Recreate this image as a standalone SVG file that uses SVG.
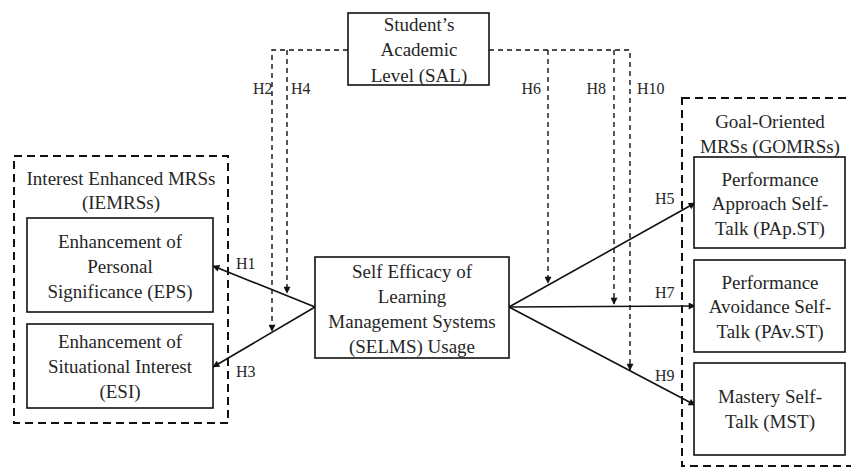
<svg xmlns="http://www.w3.org/2000/svg" width="851" height="469" viewBox="0 0 851 469">
<style>
text{font-family:"Liberation Serif","Times New Roman",serif;fill:#262626;}
.t{font-size:19px;text-anchor:middle;}
.h{font-size:16px;}
.box{fill:#fff;stroke:#111;stroke-width:1.6;}
.grp{fill:none;stroke:#111;stroke-width:2;stroke-dasharray:8 5;}
.sol{fill:none;stroke:#111;stroke-width:1.6;marker-end:url(#ah);}
.dash{fill:none;stroke:#111;stroke-width:1.4;stroke-dasharray:5 4;}
.darr{marker-end:url(#ah);}
</style>
<defs>
<marker id="ah" viewBox="0 0 10 10" refX="9" refY="5" markerWidth="8" markerHeight="7" markerUnits="userSpaceOnUse" orient="auto">
<path d="M0,0 L10,5 L0,10 z" fill="#111"/>
</marker>
</defs>
<rect width="851" height="469" fill="#fff"/>
<g id="group-iemrs">
<rect class="grp" x="14" y="156" width="214" height="267"/>
<text class="t" x="121" y="185">Interest Enhanced MRSs</text>
<text class="t" x="121" y="209">(IEMRSs)</text>
</g>
<g id="group-gomrs">
<rect class="grp" x="682" y="98" width="240" height="368"/>
<text class="t" x="770" y="128">Goal-Oriented</text>
<text class="t" x="770" y="153">MRSs (GOMRSs)</text>
</g>
<g id="connectors">
<polyline class="dash darr" points="348,50 272,50 272,331"/>
<line class="dash darr" x1="287" y1="50" x2="287" y2="293"/>
<polyline class="dash darr" points="489,50 630,50 630,370"/>
<line class="dash darr" x1="548" y1="50" x2="548" y2="283"/>
<line class="dash darr" x1="614" y1="50" x2="614" y2="304"/>
<line class="sol" x1="315" y1="307" x2="213" y2="266"/>
<line class="sol" x1="315" y1="307" x2="213" y2="367"/>
<line class="sol" x1="509" y1="307" x2="695" y2="203"/>
<line class="sol" x1="509" y1="307" x2="695" y2="306"/>
<line class="sol" x1="509" y1="307" x2="695" y2="405"/>
<text class="h" x="253" y="94">H2</text>
<text class="h" x="291" y="94">H4</text>
<text class="h" x="541" y="94" text-anchor="end">H6</text>
<text class="h" x="606" y="94" text-anchor="end">H8</text>
<text class="h" x="637" y="94">H10</text>
<text class="h" x="236" y="269">H1</text>
<text class="h" x="236" y="377">H3</text>
<text class="h" x="655" y="204">H5</text>
<text class="h" x="655" y="298">H7</text>
<text class="h" x="655" y="381">H9</text>
</g>
<g id="node-sal">
<rect class="box" x="348" y="13" width="141" height="72"/>
<text class="t" x="419" y="31">Student’s</text>
<text class="t" x="419" y="56">Academic</text>
<text class="t" x="419" y="82">Level (SAL)</text>
</g>
<g id="node-eps">
<rect class="box" x="27" y="218" width="186" height="94"/>
<text class="t" x="120" y="248">Enhancement of</text>
<text class="t" x="120" y="273">Personal</text>
<text class="t" x="120" y="298">Significance (EPS)</text>
</g>
<g id="node-esi">
<rect class="box" x="27" y="324" width="186" height="84"/>
<text class="t" x="120" y="348">Enhancement of</text>
<text class="t" x="120" y="373">Situational Interest</text>
<text class="t" x="120" y="398">(ESI)</text>
</g>
<g id="node-selms">
<rect class="box" x="315" y="257" width="194" height="101"/>
<text class="t" x="412" y="278">Self Efficacy of</text>
<text class="t" x="412" y="303">Learning</text>
<text class="t" x="412" y="328">Management Systems</text>
<text class="t" x="412" y="353">(SELMS) Usage</text>
</g>
<g id="node-papst">
<rect class="box" x="694" y="157" width="151" height="91"/>
<text class="t" x="770" y="186">Performance</text>
<text class="t" x="770" y="210">Approach Self-</text>
<text class="t" x="770" y="235">Talk (PAp.ST)</text>
</g>
<g id="node-pavst">
<rect class="box" x="694" y="260" width="151" height="92"/>
<text class="t" x="770" y="289">Performance</text>
<text class="t" x="770" y="313">Avoidance Self-</text>
<text class="t" x="770" y="338">Talk (PAv.ST)</text>
</g>
<g id="node-mst">
<rect class="box" x="694" y="363" width="151" height="92"/>
<text class="t" x="770" y="403">Mastery Self-</text>
<text class="t" x="770" y="428">Talk (MST)</text>
</g>
</svg>
